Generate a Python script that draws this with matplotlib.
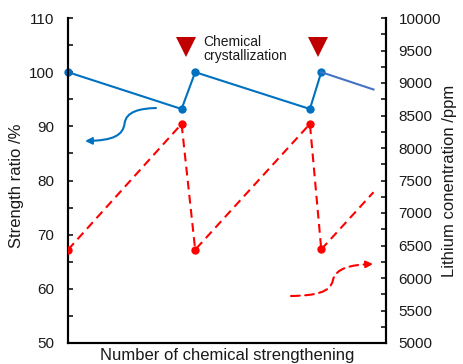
import matplotlib
matplotlib.use("Agg")
import matplotlib.pyplot as plt
from matplotlib.path import Path
from matplotlib.patches import FancyArrowPatch
from matplotlib.ticker import MultipleLocator

plt.rcParams['font.family'] = ['Liberation Sans', 'DejaVu Sans']

# ---- data ----
cycle_x = [0, 1.0, 1.12, 2.13, 2.23, 2.69]
strength_ratio = [100, 93.2, 100, 93.2, 100, 96.8]
lithium_ppm = [6435, 8370, 6435, 8370, 6440, 7320]
crystallization_x = [0.3695, 0.7846]   # axes-fraction positions of markers
left_ticks = [50, 60, 70, 80, 90, 100, 110]
right_ticks = [5000, 5500, 6000, 6500, 7000, 7500, 8000, 8500, 9000, 9500, 10000]

BLUE = '#0070C0'
BLUE2 = '#4472C4'
RED = '#FF0000'
DARKRED = '#C00000'
TXT = '#1a1a1a'

fig = plt.figure(figsize=(4.64, 3.64), dpi=100)
ax = fig.add_axes([68/464, 21/364, 318/464, 325/364])
ax2 = ax.twinx()

# strength ratio (left)
ax.plot(cycle_x[:5], strength_ratio[:5], color=BLUE, lw=1.5, marker='o', ms=5, zorder=3, clip_on=False)
ax.plot(cycle_x[4:], strength_ratio[4:], color=BLUE2, lw=1.5, zorder=3)

# lithium (right)
ax2.plot(cycle_x[:5], lithium_ppm[:5], color=RED, lw=1.5, ls=(0, (4.2, 2.6)), marker='o', ms=5, zorder=3)
ax2.plot(cycle_x[4:], lithium_ppm[4:], color=RED, lw=1.5, ls=(0, (4.2, 2.6)), zorder=3)

ax.set_xlim(0, 2.8)
ax.set_ylim(50, 110)
ax2.set_ylim(5000, 10000)
ax.set_xticks([])
ax.set_yticks(left_ticks)
ax.yaxis.set_minor_locator(MultipleLocator(5))
ax2.set_yticks(right_ticks)
ax2.yaxis.set_minor_locator(MultipleLocator(250))

for a in (ax, ax2):
    a.tick_params(axis='y', which='both', direction='in', length=3.5, width=1.1, labelsize=11, colors='black', labelcolor=TXT)
    for s in a.spines.values():
        s.set_linewidth(1.5)
    a.spines['top'].set_visible(False)
ax.tick_params(axis='y', pad=10)
ax2.tick_params(axis='y', pad=9)

ax.set_xlabel('Number of chemical strengthening', fontsize=12, color=TXT, labelpad=3.5)
ax.set_ylabel('Strength ratio /%', fontsize=12, color=TXT)
ax.yaxis.set_label_coords(-0.138, 0.483)
ax2.set_ylabel('Lithium conentration /ppm', fontsize=12, color=TXT)
ax2.yaxis.set_label_coords(1.176, 0.498)

# crystallization markers
for cx in crystallization_x:
    ax.plot([cx], [0.9097], marker='v', ms=15, color=DARKRED, mec=DARKRED, mew=0,
            transform=ax.transAxes, clip_on=False, zorder=5)
ax.text(0.4245, 0.905, 'Chemical\ncrystallization', transform=ax.transAxes,
        fontsize=10, color=TXT, ha='left', va='center', linespacing=1.0)

# blue curved arrow (pointing left to left axis)
bpath = Path([(0.2767, 0.7231), (0.2250, 0.7215), (0.1830, 0.7120), (0.1780, 0.6760),
              (0.1730, 0.6400), (0.1450, 0.6230), (0.0535, 0.6215)],
             [Path.MOVETO, Path.CURVE4, Path.CURVE4, Path.CURVE4,
              Path.CURVE4, Path.CURVE4, Path.CURVE4])
barrow = FancyArrowPatch(path=bpath, arrowstyle='-|>', mutation_scale=10, color=BLUE,
                         lw=1.5, transform=ax.transAxes, zorder=4)
ax.add_patch(barrow)

# red dashed curved arrow (pointing right to right axis)
rpath = Path([(0.7013, 0.1446), (0.7800, 0.1460), (0.8250, 0.1560), (0.8330, 0.1930),
              (0.8410, 0.2300), (0.8900, 0.2410), (0.9500, 0.2425)],
             [Path.MOVETO, Path.CURVE4, Path.CURVE4, Path.CURVE4,
              Path.CURVE4, Path.CURVE4, Path.CURVE4])
rline = FancyArrowPatch(path=rpath, arrowstyle='-', color=RED, lw=1.5,
                        linestyle=(0, (4.2, 2.6)), transform=ax.transAxes, zorder=4)
ax.add_patch(rline)
ax.annotate('', xy=(0.9591, 0.2431), xytext=(0.935, 0.2420), xycoords='axes fraction',
            arrowprops=dict(arrowstyle='-|>', color=RED, lw=1.5, mutation_scale=10,
                            shrinkA=0, shrinkB=0))

fig.savefig('out.png', dpi=100)
